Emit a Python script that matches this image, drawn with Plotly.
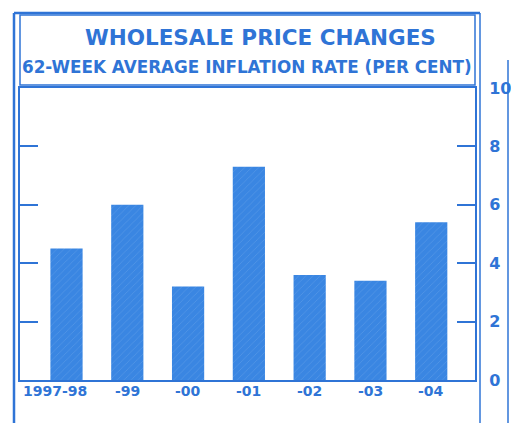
import plotly.graph_objects as go

categories = ["1997-98", "-99", "-00", "-01", "-02", "-03", "-04"]
inflation = [4.5, 6.0, 3.2, 7.3, 3.6, 3.4, 5.4]
y_ticks = [0, 2, 4, 6, 8, 10]

W, H = 511, 423
L, R, T, B = 20, 475, 88, 380  # plot frame in pixels

def px(x):
    return (x - L) / (R - L)

def py(y):
    return (B - y) / (B - T)

BLUE = "#2f74d6"
BAR = "#3a86e2"
FONT = "DejaVu Sans, Liberation Sans, Arial, sans-serif"

xs = list(range(len(categories)))

fig = go.Figure()
fig.add_trace(go.Bar(
    x=xs, y=inflation, width=0.53,
    marker=dict(color=BAR, line=dict(width=0),
                pattern=dict(shape="/", fgcolor="#6fa6ea", size=5, solidity=0.15)),
    showlegend=False, hoverinfo="skip",
))

shapes = []
def rect(x0, y0, x1, y1, w=2):
    shapes.append(dict(type="rect", xref="paper", yref="paper",
                       x0=px(x0), x1=px(x1), y0=py(y0), y1=py(y1),
                       line=dict(color=BLUE, width=w), layer="above"))
def line(x0, y0, x1, y1, w=2):
    shapes.append(dict(type="line", xref="paper", yref="paper",
                       x0=px(x0), x1=px(x1), y0=py(y0), y1=py(y1),
                       line=dict(color=BLUE, width=w), layer="above"))

# outer frame pieces
line(14, 13, 480, 13, 2.5)
line(14, 13, 14, 423, 2.5)
line(480, 13, 480, 423, 1.5)
line(508, 60, 508, 423, 1.5)
# title box
rect(20, 15, 475, 85, 1.5)

annotations = []
for i, lab in enumerate(categories):
    annotations.append(dict(
        x=xs[i], y=0, xref="x", yref="y", text="<b>" + lab + "</b>", showarrow=False,
        yanchor="top", yshift=-1, xshift=(-12 if i == 0 else 0),
        font=dict(family=FONT, size=14, color=BLUE)))

annotations.append(dict(x=px(260), y=py(37), xref="paper", yref="paper",
                        xanchor="center", yanchor="middle",
                        text="<b>WHOLESALE PRICE CHANGES</b>", showarrow=False,
                        font=dict(family=FONT, size=21.5, color=BLUE)))
annotations.append(dict(x=px(247), y=py(67), xref="paper", yref="paper",
                        xanchor="center", yanchor="middle",
                        text="<b>62-WEEK AVERAGE INFLATION RATE (PER CENT)</b>",
                        showarrow=False,
                        font=dict(family=FONT, size=16.8, color=BLUE)))

fig.update_layout(
    width=W, height=H,
    margin=dict(l=L, r=W - R, t=T, b=H - B, pad=0, autoexpand=False),
    paper_bgcolor="white", plot_bgcolor="white",
    bargap=0.47,
    shapes=shapes, annotations=annotations,
    xaxis=dict(range=[-0.765, 6.72], showticklabels=False, showgrid=False,
               zeroline=False, showline=True, linecolor=BLUE, linewidth=2,
               mirror=True, ticks="", automargin=False),
    yaxis=dict(range=[0, 10], side="right", tickvals=y_ticks,
               ticktext=["<b>%d</b>" % v for v in y_ticks],
               ticks="inside", ticklen=18, tickwidth=2, tickcolor=BLUE,
               ticklabelstandoff=9, automargin=False,
               showline=True, linecolor=BLUE, linewidth=2, mirror="ticks",
               showgrid=False, zeroline=False,
               tickfont=dict(family=FONT, size=16, color=BLUE)),
)

fig.write_html("out.html")
